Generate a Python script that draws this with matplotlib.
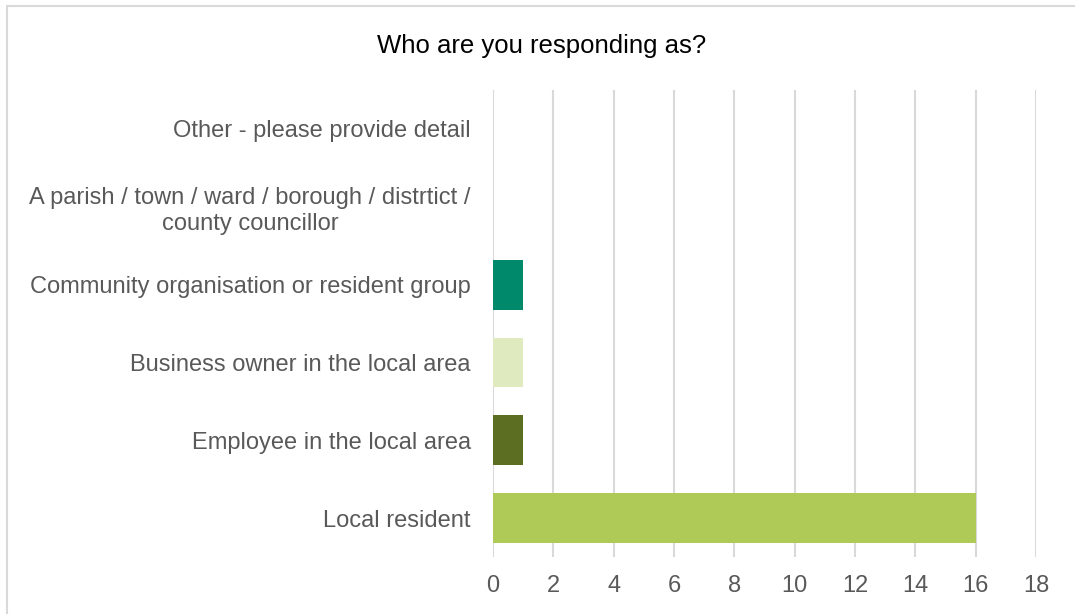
import matplotlib.pyplot as plt
from matplotlib.patches import Rectangle

# Data (bottom to top)
categories = [
    'Local resident',
    'Employee in the local area',
    'Business owner in the local area',
    'Community organisation or resident group',
    'A parish / town / ward / borough / distrtict /\ncounty councillor',
    'Other - please provide detail',
]
counts = [16, 1, 1, 1, 0, 0]
bar_colors = ['#AFCA57', '#5B6E22', '#DFEBBF', '#00896B', '#7F7F7F', '#7F7F7F']
x_ticks = [0, 2, 4, 6, 8, 10, 12, 14, 16, 18]

plt.rcParams['font.family'] = ['Liberation Sans', 'DejaVu Sans']
text_color = '#595959'
grid_color = '#D9D9D9'

fig = plt.figure(figsize=(10.75, 6.14), dpi=100)
ax = fig.add_axes([0.4586, 0.0928, 0.5051, 0.7606])

y_pos = list(range(len(categories)))
ax.barh(y_pos, counts, height=0.64, color=bar_colors, zorder=3)

ax.set_xlim(0, 18)
ax.set_ylim(-0.5, len(categories) - 0.5)
ax.set_xticks(x_ticks)
ax.set_xticklabels([str(t) for t in x_ticks])
ax.set_yticks(y_pos)
ax.set_yticklabels(categories, multialignment='center')

ax.tick_params(axis='x', length=0, pad=13, labelsize=17, labelcolor=text_color)
ax.tick_params(axis='y', length=0, pad=16, labelsize=17, labelcolor=text_color)

ax.grid(axis='x', color=grid_color, linewidth=1.5, zorder=0)
for s in ax.spines.values():
    s.set_visible(False)

fig.text(0.5035, 0.925, 'Who are you responding as?', ha='center', va='center',
         fontsize=18.5, color='#000000')

# chart border
fig.patches.append(Rectangle((7 / 1075, -0.1), 1.2, 1 - 6 / 614 + 0.1,
                             transform=fig.transFigure, fill=False,
                             edgecolor=grid_color, linewidth=1.5))

fig.savefig('out.png', dpi=100)
